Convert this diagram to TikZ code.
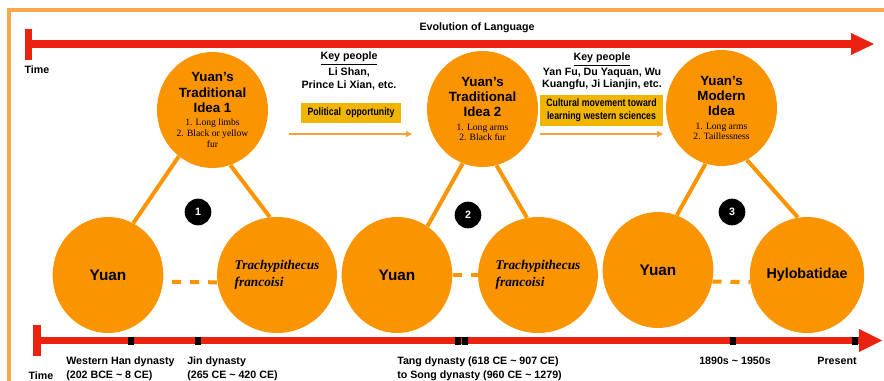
\documentclass[tikz,border=0pt]{standalone}
\usepackage{fontspec}
\setmainfont{Liberation Sans}
\newfontfamily\serifface{Liberation Serif}
\newfontfamily\narrowface[FakeStretch=0.82]{Liberation Sans}
\usetikzlibrary{positioning,shapes.geometric,arrows.meta}

\definecolor{apeorange}{RGB}{250,148,0}
\definecolor{framerim}{RGB}{248,166,74}
\definecolor{pusharrow}{RGB}{246,162,58}
\definecolor{timered}{RGB}{236,34,17}
\definecolor{boxgold}{RGB}{241,181,0}

\newcommand{\subtext}{\serifface\mdseries\fontsize{7.2}{8.3}\selectfont}

\tikzset{
  idea/.style={ellipse, fill=apeorange, inner sep=0pt, minimum width=83.25pt, minimum height=87pt,
    align=center, font=\bfseries\fontsize{10}{11.6}\selectfont},
  ape/.style={ellipse, fill=apeorange, inner sep=0pt, minimum width=83pt, minimum height=87pt,
    font=\bfseries\fontsize{11.5}{13}\selectfont},
  species/.style={ape, align=left, font=\serifface\bfseries\itshape\fontsize{10}{12.5}\selectfont},
  leg/.style={apeorange, line width=3pt},
  kin/.style={apeorange, line width=3pt, dash pattern=on 6.75pt off 6.75pt},
  badge/.style={circle, fill=black, text=white, inner sep=0pt, minimum size=20pt,
    font=\bfseries\fontsize{8}{9}\selectfont},
  people/.style={align=center, inner sep=0pt, font=\bfseries\fontsize{8}{9.2}\selectfont},
  cause/.style={fill=boxgold, align=center, inner sep=0pt, font=\narrowface\bfseries\fontsize{8}{9.6}\selectfont},
  push/.style={pusharrow, line width=1.5pt, -{Triangle[length=4.5pt,width=4.5pt]}},
  tag/.style={inner sep=0pt, font=\bfseries\fontsize{8}{10.5}\selectfont},
  era/.style={tag, anchor=west, align=left},
}

\begin{document}
\begin{tikzpicture}[x=0.75pt,y=-0.75pt]
  \useasboundingbox (0,0) rectangle (884,381);
  \clip (0,0) rectangle (884,381);

  % frame
  \draw[framerim, line width=2.6pt] (9,400) -- (9,10) -- (900,10);

  % upper time arrow
  \fill[timered] (25,29) rectangle (32,60);
  \draw[timered, line width=6pt] (28,44) -- (852,44);
  \fill[timered] (851,33) -- (874,44) -- (851,55) -- cycle;
  \node[tag] (evolution) at (477,28) {Evolution of Language};
  \node[tag] (timeup) at (37,70) {Time};

  % ideas
  \node[idea] (idea1) at (212.5,110) {Yuan’s\\Traditional\\Idea 1\\[-1.8pt]\subtext 1. Long limbs\\[-3.4pt]\subtext 2. Black or yellow\\[-3.4pt]\subtext fur};
  \node[idea] (idea2) at (482.5,109) {Yuan’s\\Traditional\\Idea 2\\[-1.8pt]\subtext 1. Long arms\\[-3.4pt]\subtext 2. Black fur};
  \node[idea] (modern) at (721.5,108) {Yuan’s\\Modern\\Idea\\[-1.8pt]\subtext 1. Long arms\\[-3.4pt]\subtext 2. Taillessness};

  % animals
  \node[ape] (yuan1) at (108,275) {Yuan};
  \node[species] (trach1) at (277,275) {Trachypithecus\\francoisi};
  \node[ape] (yuan2) at (397,275) {Yuan};
  \node[species] (trach2) at (538,275) {Trachypithecus\\francoisi};
  \node[ape] (yuan3) at (658,270) {Yuan};
  \node[ape, font=\bfseries\fontsize{10.7}{13}\selectfont] (gibbon) at (807,275) {Hylobatidae};

  % legs
  \draw[leg] (idea1.234) -- (yuan1.64);
  \draw[leg] (idea1.288) -- (trach1.97);
  \draw[leg] (idea2.250) -- (yuan2.58);
  \draw[leg] (idea2.284) -- (trach2.101);
  \draw[leg] (modern.254) -- (yuan3.71);
  \draw[leg] (modern.296) -- (gibbon.99);

  \draw[kin, dash phase=6.75pt] (yuan1.-7) -- (trach1.187);
  \draw[kin] (yuan2) -- (trach2);
  \draw[kin] (yuan3.-12) -- (gibbon.187);

  \node[badge] (step1) at (198,212) {1};
  \node[badge] (step2) at (468,215) {2};
  \node[badge] (step3) at (732,212) {3};

  % key people and causes
  \node[people] (keyA) at (349,71) {\underline{Key people}\\[1.5pt]Li Shan,\\Prince Li Xian, etc.};
  \node[people] (keyB) at (602,71.5) {\underline{Key people}\\[1.5pt]Yan Fu, Du Yaquan, Wu\\Kuangfu, Ji Lianjin, etc.};
  \node[cause, minimum width=75pt, minimum height=15pt] (politics) at (351,113) {Political\ \ opportunity};
  \node[cause, minimum width=92.25pt, minimum height=23.25pt] (culture) at (601.5,110.5) {Cultural movement toward\\learning western sciences};

  \coordinate (pushA0) at (289,134);
  \coordinate (pushA1) at (412,134);
  \coordinate (pushB0) at (540,134);
  \coordinate (pushB1) at (663,134);
  \draw[push] (pushA0) -- (pushA1);
  \draw[push] (pushB0) -- (pushB1);

  % lower time arrow
  \fill[timered] (33,325) rectangle (41,356);
  \draw[timered, line width=5.5pt] (37,340.5) -- (860,340.5);
  \fill[timered] (859,329) -- (882,340.5) -- (859,352) -- cycle;
  \foreach \x in {131,198,458,465,733,854.5}
    \fill[black] (\x-3,336.5) rectangle (\x+3,344.5);

  \node[tag] (timedown) at (41,376) {Time};
  \node[era] (hanlbl) at (66,369) {Western Han dynasty\\(202 BCE \textasciitilde{} 8 CE)};
  \node[era] (jinlbl) at (187,369) {Jin dynasty\\(265 CE \textasciitilde{} 420 CE)};
  \node[era] (tanglbl) at (397,369) {Tang dynasty (618 CE \textasciitilde{} 907 CE)\\to Song dynasty (960 CE \textasciitilde{} 1279)};
  \node[tag] (recentlbl) at (735,361) {1890s \textasciitilde{} 1950s};
  \node[tag] (presentlbl) at (837,361) {Present};
\end{tikzpicture}
\end{document}
